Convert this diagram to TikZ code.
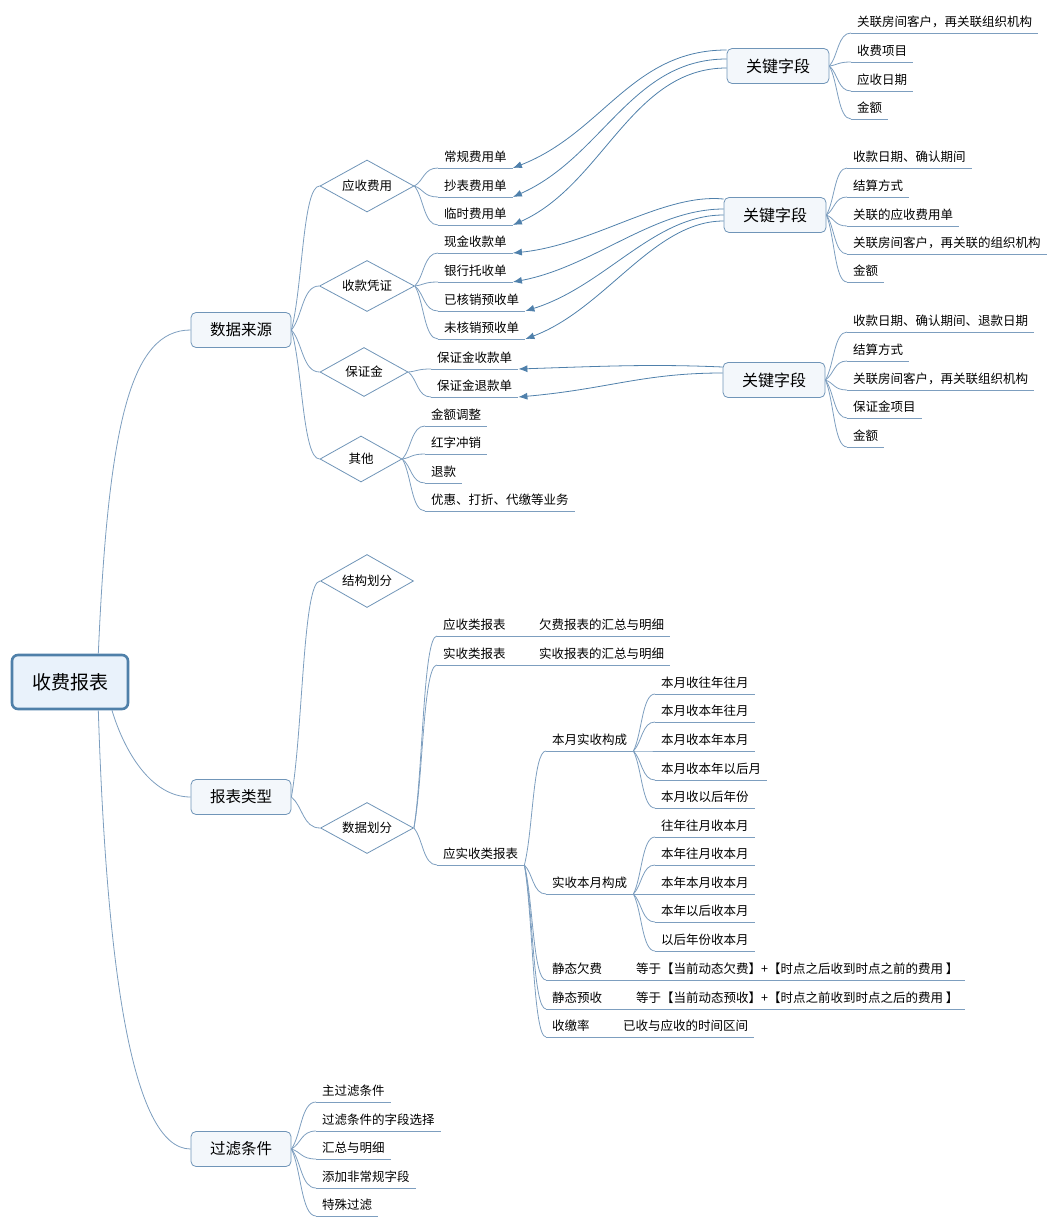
\documentclass[tikz,border=0pt]{standalone}
\usepackage{fontspec}
\newfontfamily\cjk{Noto Sans CJK SC}
\usepackage{tikz}
\usetikzlibrary{shapes.geometric,arrows.meta,calc}

\definecolor{linecol}{HTML}{7D9EBF}
\definecolor{boxline}{HTML}{7095B8}
\definecolor{boxfill}{HTML}{F3F7FB}
\definecolor{rootline}{HTML}{4F80A9}
\definecolor{rootfill}{HTML}{E9F2FB}
\definecolor{arrowcol}{HTML}{4F80AB}

\begin{document}
\begin{tikzpicture}[x=1pt, y=-1pt,
    branch/.style={draw=linecol, line width=0.8pt,
      to path={let \p1=(\tikztostart), \p2=(\tikztotarget) in
        .. controls ({\x1+0.4*(\x2-\x1)},{\y1+0.3*(\y2-\y1)}) and ({\x1+0.4*(\x2-\x1)},\y2) .. (\tikztotarget)}},
    uline/.style={draw=linecol, line width=0.8pt},
    link/.style={draw=arrowcol, line width=0.8pt, -{Latex[length=9pt,width=7pt]}},
    root/.style={draw=rootline, line width=2.6pt, fill=rootfill, rounded corners=6pt,
      minimum width=116pt, minimum height=54pt, font=\cjk\fontsize{19}{22}\selectfont},
    topic/.style={draw=boxline, line width=0.8pt, fill=boxfill, rounded corners=5pt,
      minimum width=100pt, minimum height=35pt, inner sep=0pt, font=\cjk\fontsize{15.5}{18}\selectfont},
    keybox/.style={topic, minimum width=102pt, font=\cjk\fontsize{16}{19}\selectfont},
    choice/.style={diamond, shape aspect=2.2, draw=boxline, line width=0.8pt, fill=white, inner sep=0pt,
      font=\cjk\fontsize{12.5}{15}\selectfont},
    leaf/.style={anchor=south west, inner xsep=6pt, inner ysep=3.5pt, text height=9.5pt, text depth=2.5pt,
      font=\cjk\fontsize{12.5}{15}\selectfont,
      append after command={\pgfextra{\let\leafnode=\tikzlastnode} (\leafnode.south west) edge[uline] (\leafnode.south east)}}
  ]
    \useasboundingbox (0,0) rectangle (1058,1228);

    % central topic and main branches
    \node[root] (root) at (70,682) {收费报表};
    \node[topic] (sjly) at (241,330) {数据来源};
    \node[topic] (bblx) at (241,797) {报表类型};
    \node[topic] (gltj) at (241,1149) {过滤条件};
    \draw[branch] (root.45) .. controls +(10,-230) and +(-60,0) .. (sjly.west);
    \draw[branch] (root.-34) .. controls +(12,40) and +(-40,0) .. (bblx.west);
    \draw[branch] (root.-45) .. controls +(8,250) and +(-60,0) .. (gltj.west);

    % data sources
    \node[choice, minimum width=94pt, minimum height=52pt] (ysfy) at (367,186) {应收费用};
    \node[choice, minimum width=95pt, minimum height=51pt] (skpz) at (367,286) {收款凭证};
    \node[choice, minimum width=88pt, minimum height=49pt] (bzj) at (364,372) {保证金};
    \node[choice, minimum width=82pt, minimum height=46pt] (qt) at (361,459) {其他};
    \path (sjly.east) edge[branch] (ysfy.west) edge[branch] (skpz.west)
      edge[branch] (bzj.west) edge[branch] (qt.west);

    \node[leaf] (a1) at (438,168) {常规费用单};
    \node[leaf] (a2) at (438,197) {抄表费用单};
    \node[leaf] (a3) at (438,225) {临时费用单};
    \path (ysfy.east) edge[branch] (a1.south west) edge[branch] (a2.south west) edge[branch] (a3.south west);

    \node[leaf] (b1) at (438,253) {现金收款单};
    \node[leaf] (b2) at (438,282) {银行托收单};
    \node[leaf] (b3) at (438,311) {已核销预收单};
    \node[leaf] (b4) at (438,339) {未核销预收单};
    \path (skpz.east) edge[branch] (b1.south west) edge[branch] (b2.south west)
      edge[branch] (b3.south west) edge[branch] (b4.south west);

    \node[leaf] (c1) at (431,369) {保证金收款单};
    \node[leaf] (c2) at (431,397) {保证金退款单};
    \path (bzj.east) edge[branch] (c1.south west) edge[branch] (c2.south west);

    \node[leaf] (d1) at (425,426) {金额调整};
    \node[leaf] (d2) at (425,454) {红字冲销};
    \node[leaf] (d3) at (425,483) {退款};
    \node[leaf] (d4) at (425,511) {优惠、打折、代缴等业务};
    \path (qt.east) edge[branch] (d1.south west) edge[branch] (d2.south west)
      edge[branch] (d3.south west) edge[branch] (d4.south west);

    % key fields
    \node[keybox] (gjzd1) at (778,66) {关键字段};
    \node[leaf] (k1a) at (851,33) {关联房间客户，再关联组织机构};
    \node[leaf] (k1b) at (851,62) {收费项目};
    \node[leaf] (k1c) at (851,91) {应收日期};
    \node[leaf] (k1d) at (851,119) {金额};
    \path (gjzd1.east) edge[branch] (k1a.south west) edge[branch] (k1b.south west)
      edge[branch] (k1c.south west) edge[branch] (k1d.south west);

    \node[keybox] (gjzd2) at (775,215) {关键字段};
    \node[leaf] (k2a) at (847,168) {收款日期、确认期间};
    \node[leaf] (k2b) at (847,197) {结算方式};
    \node[leaf] (k2c) at (847,226) {关联的应收费用单};
    \node[leaf] (k2d) at (847,254) {关联房间客户，再关联的组织机构};
    \node[leaf] (k2e) at (847,282) {金额};
    \path (gjzd2.east) edge[branch] (k2a.south west) edge[branch] (k2b.south west)
      edge[branch] (k2c.south west) edge[branch] (k2d.south west) edge[branch] (k2e.south west);

    \node[keybox] (gjzd3) at (774,380) {关键字段};
    \node[leaf] (k3a) at (847,332) {收款日期、确认期间、退款日期};
    \node[leaf] (k3b) at (847,361) {结算方式};
    \node[leaf] (k3c) at (847,390) {关联房间客户，再关联组织机构};
    \node[leaf] (k3d) at (847,418) {保证金项目};
    \node[leaf] (k3e) at (847,447) {金额};
    \path (gjzd3.east) edge[branch] (k3a.south west) edge[branch] (k3b.south west)
      edge[branch] (k3c.south west) edge[branch] (k3d.south west) edge[branch] (k3e.south west);

    % relationships
    \draw[link] ($(gjzd1.west)+(0,-16)$) .. controls +(-95,0) and +(90,-35) .. (a1.south east);
    \draw[link] ($(gjzd1.west)+(0,-7)$) .. controls +(-95,0) and +(90,-40) .. (a2.south east);
    \draw[link] ($(gjzd1.west)+(0,2)$) .. controls +(-95,0) and +(90,-40) .. (a3.south east);
    \draw[link] ($(gjzd2.west)+(0,-16)$) .. controls +(-60,-6) and +(80,-8) .. (b1.south east);
    \draw[link] ($(gjzd2.west)+(0,-6)$) .. controls +(-70,0) and +(80,-15) .. (b2.south east);
    \draw[link] ($(gjzd2.west)+(0,0)$) .. controls +(-70,0) and +(80,-25) .. (b3.south east);
    \draw[link] ($(gjzd2.west)+(0,6)$) .. controls +(-70,0) and +(80,-30) .. (b4.south east);
    \draw[link] ($(gjzd3.west)+(0,-13)$) .. controls +(-70,-3) and +(90,-3) .. (c1.south east);
    \draw[link] ($(gjzd3.west)+(0,-7)$) .. controls +(-80,0) and +(90,-8) .. (c2.south east);

    % report types
    \node[choice, minimum width=93pt, minimum height=53pt] (jghf) at (367,581) {结构划分};
    \node[choice, minimum width=93pt, minimum height=51pt] (sjhf) at (367,828) {数据划分};
    \path (bblx.east) edge[branch] (jghf.west) edge[branch] (sjhf.west);

    \node[leaf] (r1) at (437,636) {应收类报表};
    \node[leaf] (r1x) at (533,636) {欠费报表的汇总与明细};
    \node[leaf] (r2) at (437,665) {实收类报表};
    \node[leaf] (r2x) at (533,665) {实收报表的汇总与明细};
    \node[leaf] (r3) at (437,865) {应实收类报表};
    \path (sjhf.east) edge[branch] (r1.south west) edge[branch] (r2.south west) edge[branch] (r3.south west);
    \draw[uline] (r1.south east) -- (r1x.south west);
    \draw[uline] (r2.south east) -- (r2x.south west);

    \node[leaf] (s1) at (546,751) {本月实收构成};
    \node[leaf] (s2) at (546,894) {实收本月构成};
    \node[leaf] (s3) at (546,980) {静态欠费};
    \node[leaf] (s3x) at (630,980) {等于【当前动态欠费】+【时点之后收到时点之前的费用 】};
    \node[leaf] (s4) at (546,1009) {静态预收};
    \node[leaf] (s4x) at (630,1009) {等于【当前动态预收】+【时点之前收到时点之后的费用 】};
    \node[leaf] (s5) at (546,1037) {收缴率};
    \node[leaf] (s5x) at (617,1037) {已收与应收的时间区间};
    \path (r3.south east) edge[branch] (s1.south west) edge[branch] (s2.south west)
      edge[branch] (s3.south west) edge[branch] (s4.south west) edge[branch] (s5.south west);
    \draw[uline] (s3.south east) -- (s3x.south west);
    \draw[uline] (s4.south east) -- (s4x.south west);
    \draw[uline] (s5.south east) -- (s5x.south west);

    \node[leaf] (m1) at (655,694) {本月收往年往月};
    \node[leaf] (m2) at (655,722) {本月收本年往月};
    \node[leaf] (m3) at (655,751) {本月收本年本月};
    \node[leaf] (m4) at (655,780) {本月收本年以后月};
    \node[leaf] (m5) at (655,808) {本月收以后年份};
    \path (s1.south east) edge[branch] (m1.south west) edge[branch] (m2.south west)
      edge[branch] (m3.south west) edge[branch] (m4.south west) edge[branch] (m5.south west);

    \node[leaf] (n1) at (655,837) {往年往月收本月};
    \node[leaf] (n2) at (655,865) {本年往月收本月};
    \node[leaf] (n3) at (655,894) {本年本月收本月};
    \node[leaf] (n4) at (655,922) {本年以后收本月};
    \node[leaf] (n5) at (655,951) {以后年份收本月};
    \path (s2.south east) edge[branch] (n1.south west) edge[branch] (n2.south west)
      edge[branch] (n3.south west) edge[branch] (n4.south west) edge[branch] (n5.south west);

    % filters
    \node[leaf] (f1) at (316,1102) {主过滤条件};
    \node[leaf] (f2) at (316,1131) {过滤条件的字段选择};
    \node[leaf] (f3) at (316,1159) {汇总与明细};
    \node[leaf] (f4) at (316,1188) {添加非常规字段};
    \node[leaf] (f5) at (316,1216) {特殊过滤};
    \path (gltj.east) edge[branch] (f1.south west) edge[branch] (f2.south west)
      edge[branch] (f3.south west) edge[branch] (f4.south west) edge[branch] (f5.south west);
\end{tikzpicture}
\end{document}
